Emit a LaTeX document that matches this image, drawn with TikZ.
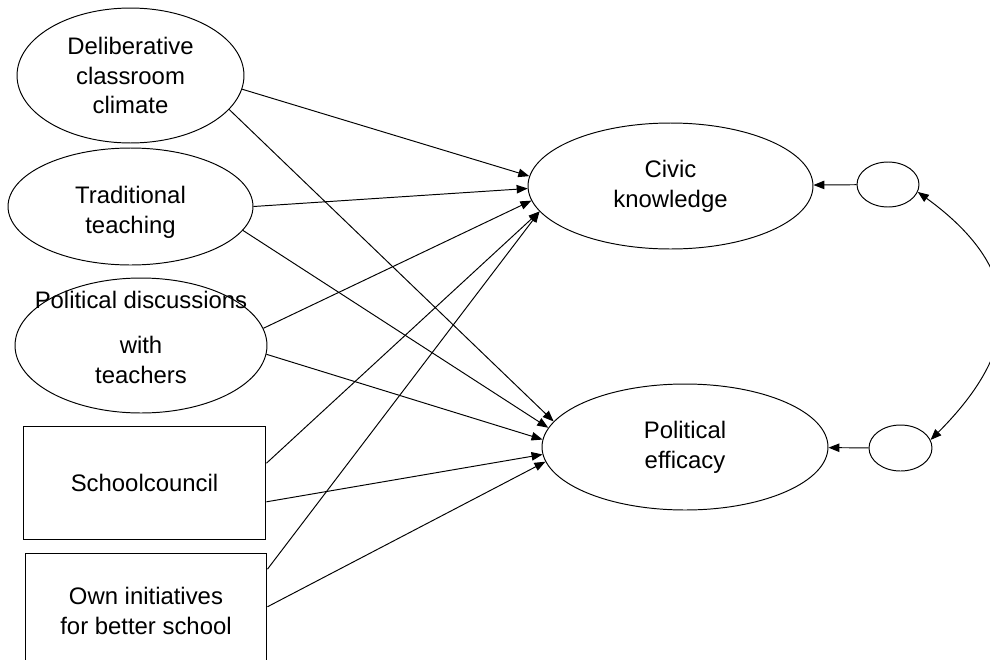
\documentclass[tikz,border=0pt]{standalone}
\usepackage{fontspec}
\setmainfont{Liberation Sans}
\usetikzlibrary{arrows.meta, positioning, shapes}

\begin{document}
\begin{tikzpicture}[x=0.02cm, y=-0.02cm, line width=0.55pt,
    >={Triangle[length=0.22cm, width=0.17cm]},
    every node/.style={font=\fontsize{13.6}{17}\selectfont, align=center},
    latent/.style={draw, ellipse, inner sep=0pt},
    observed/.style={draw, rectangle, inner sep=0pt},
    arr/.style={->}]
            \useasboundingbox (0,0) rectangle (990,659);

            \node[latent, minimum width=4.54cm, minimum height=2.7cm] (delib) at (130.5,75.5) {Deliberative\\classroom\\climate};
            \node[latent, minimum width=4.9cm, minimum height=2.34cm, label={[yshift=-3.5pt]center:Traditional\\teaching}] (trad) at (130.5,206.5) {};
            \node[latent, minimum width=5.04cm, minimum height=2.7cm, label={[yshift=4.5pt]center:\makebox[0pt]{Political discussions}\\[8.5pt]with\\teachers}] (disc) at (141,345.5) {};
            \node[observed, minimum width=4.86cm, minimum height=2.26cm] (school) at (144.5,482.5) {Schoolcouncil};
            \node[observed, minimum width=4.84cm, minimum height=2.32cm] (own) at (146,611) {Own initiatives\\for better school};

            \node[latent, minimum width=5.7cm, minimum height=2.52cm] (civic) at (670.5,186) {Civic\\knowledge};
            \node[latent, minimum width=5.72cm, minimum height=2.52cm] (poleff) at (685,447) {Political\\efficacy};
            \node[latent, minimum width=1.24cm, minimum height=0.9cm] (errk) at (888,184.5) {};
            \node[latent, minimum width=1.26cm, minimum height=0.92cm] (erre) at (900.5,448) {};

            \draw[arr] (delib.-7) -- (civic.176);
            \draw[arr] (delib.-19) -- (poleff.169);
            \draw[arr] (trad.0) -- (civic.181);
            \draw[arr] (trad.-12) -- (poleff.172);
            \draw[arr] (disc.8) -- (civic.186);
            \draw[arr] (disc.-4) -- (poleff.177);
            \draw[arr] (school.9) -- (civic.191);
            \draw[arr] (school.-9) -- (poleff.183);
            \draw[arr] (own.19) -- (civic.191);
            \draw[arr] (own.2) -- (poleff.186);

            \draw[arr] (errk) -- (civic);
            \draw[arr] (erre) -- (poleff);
            \draw[<->] (errk.-14) .. controls +(-36:2.7cm) and +(45:2.6cm) .. (erre.15);
        \end{tikzpicture}
\end{document}
